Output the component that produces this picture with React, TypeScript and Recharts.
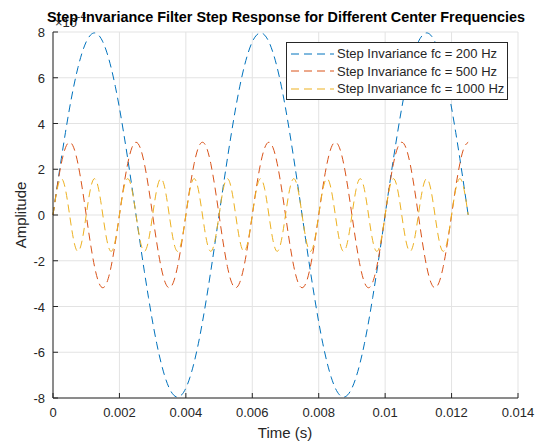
import React from 'react';
import { LineChart, Line, XAxis, YAxis, CartesianGrid } from 'recharts';

// time samples in milliseconds
const TIME_MS = [
  0, 0.125, 0.25, 0.375, 0.5, 0.625, 0.75, 0.875,
  1, 1.125, 1.25, 1.375, 1.5, 1.625, 1.75, 1.875,
  2, 2.125, 2.25, 2.375, 2.5, 2.625, 2.75, 2.875,
  3, 3.125, 3.25, 3.375, 3.5, 3.625, 3.75, 3.875,
  4, 4.125, 4.25, 4.375, 4.5, 4.625, 4.75, 4.875,
  5, 5.125, 5.25, 5.375, 5.5, 5.625, 5.75, 5.875,
  6, 6.125, 6.25, 6.375, 6.5, 6.625, 6.75, 6.875,
  7, 7.125, 7.25, 7.375, 7.5, 7.625, 7.75, 7.875,
  8, 8.125, 8.25, 8.375, 8.5, 8.625, 8.75, 8.875,
  9, 9.125, 9.25, 9.375, 9.5, 9.625, 9.75, 9.875,
  10, 10.125, 10.25, 10.375, 10.5, 10.625, 10.75, 10.875,
  11, 11.125, 11.25, 11.375, 11.5, 11.625, 11.75, 11.875,
  12, 12.125, 12.25, 12.375, 12.5,
];

// amplitudes in units of 1e-4
const FC200 = [
  0,
  1.25, 2.46, 3.61, 4.68, 5.63, 6.44, 7.09, 7.57, 7.86, 7.96, 7.86, 7.57, 7.09, 6.44, 5.63, 4.68, 3.61, 2.46, 1.25, 0,
  -1.25, -2.46, -3.61, -4.68, -5.63, -6.44, -7.09, -7.57, -7.86, -7.96, -7.86, -7.57, -7.09, -6.44, -5.63, -4.68, -3.61, -2.46, -1.25, 0,
  1.25, 2.46, 3.61, 4.68, 5.63, 6.44, 7.09, 7.57, 7.86, 7.96, 7.86, 7.57, 7.09, 6.44, 5.63, 4.68, 3.61, 2.46, 1.25, 0,
  -1.25, -2.46, -3.61, -4.68, -5.63, -6.44, -7.09, -7.57, -7.86, -7.96, -7.86, -7.57, -7.09, -6.44, -5.63, -4.68, -3.61, -2.46, -1.25, 0,
  1.25, 2.46, 3.61, 4.68, 5.63, 6.44, 7.09, 7.57, 7.86, 7.96, 7.86, 7.57, 7.09, 6.44, 5.63, 4.68, 3.61, 2.46, 1.25, 0,
];

const FC500 = [
  0,
  1.22, 2.25, 2.94, 3.18, 2.94, 2.25, 1.22, 0,
  -1.22, -2.25, -2.94, -3.18, -2.94, -2.25, -1.22, 0,
  1.22, 2.25, 2.94, 3.18, 2.94, 2.25, 1.22, 0,
  -1.22, -2.25, -2.94, -3.18, -2.94, -2.25, -1.22, 0,
  1.22, 2.25, 2.94, 3.18, 2.94, 2.25, 1.22, 0,
  -1.22, -2.25, -2.94, -3.18, -2.94, -2.25, -1.22, 0,
  1.22, 2.25, 2.94, 3.18, 2.94, 2.25, 1.22, 0,
  -1.22, -2.25, -2.94, -3.18, -2.94, -2.25, -1.22, 0,
  1.22, 2.25, 2.94, 3.18, 2.94, 2.25, 1.22, 0,
  -1.22, -2.25, -2.94, -3.18, -2.94, -2.25, -1.22, 0,
  1.22, 2.25, 2.94, 3.18, 2.94, 2.25, 1.22, 0,
  -1.22, -2.25, -2.94, -3.18, -2.94, -2.25, -1.22, 0,
  1.22, 2.25, 2.94, 3.18,
];

const FC1000 = [
  0,
  1.12, 1.59, 1.12, 0, -1.12, -1.59, -1.12, 0,
  1.12, 1.59, 1.12, 0, -1.12, -1.59, -1.12, 0,
  1.12, 1.59, 1.12, 0, -1.12, -1.59, -1.12, 0,
  1.12, 1.59, 1.12, 0, -1.12, -1.59, -1.12, 0,
  1.12, 1.59, 1.12, 0, -1.12, -1.59, -1.12, 0,
  1.12, 1.59, 1.12, 0, -1.12, -1.59, -1.12, 0,
  1.12, 1.59, 1.12, 0, -1.12, -1.59, -1.12, 0,
  1.12, 1.59, 1.12, 0, -1.12, -1.59, -1.12, 0,
  1.12, 1.59, 1.12, 0, -1.12, -1.59, -1.12, 0,
  1.12, 1.59, 1.12, 0, -1.12, -1.59, -1.12, 0,
  1.12, 1.59, 1.12, 0, -1.12, -1.59, -1.12, 0,
  1.12, 1.59, 1.12, 0, -1.12, -1.59, -1.12, 0,
  1.12, 1.59, 1.12, 0,
];

const SERIES_KEYS = ['fc200', 'fc500', 'fc1000'];
const SERIES_NAMES = ['Step Invariance fc = 200 Hz', 'Step Invariance fc = 500 Hz', 'Step Invariance fc = 1000 Hz'];
const COLORS = ['#0072BD', '#D95319', '#EDB120'];

const X_TICKS = [0, 0.002, 0.004, 0.006, 0.008, 0.01, 0.012, 0.014];
const Y_TICKS = [-8, -6, -4, -2, 0, 2, 4, 6, 8];

const FONT = '"Liberation Sans", Arial, Helvetica, sans-serif';
const AXIS_COLOR = '#262626';
const DASH = '8 5';

const data = TIME_MS.map((ms, i) => ({
  t: ms / 1000,
  fc200: FC200[i],
  fc500: FC500[i],
  fc1000: FC1000[i],
}));

const XTick = ({ x, y, payload }: any) => (
  <g>
    <line x1={x} y1={y} x2={x} y2={y - 5} stroke={AXIS_COLOR} />
    <text x={x} y={y + 19} textAnchor="middle" fontSize={13} fill={AXIS_COLOR} fontFamily={FONT}>
      {payload.value}
    </text>
  </g>
);

const YTick = ({ x, y, payload }: any) => (
  <g>
    <line x1={x} y1={y} x2={x + 5} y2={y} stroke={AXIS_COLOR} />
    <text x={x - 8} y={y + 5} textAnchor="end" fontSize={13} fill={AXIS_COLOR} fontFamily={FONT}>
      {payload.value}
    </text>
  </g>
);

export default function App() {
  return (
    <div style={{ position: 'absolute', left: 0, top: 0, width: 557, height: 445, background: '#fff', fontFamily: FONT }}>
      <LineChart width={557} height={445} data={data} margin={{ top: 32, right: 39, bottom: 0, left: 0 }}>
        <CartesianGrid stroke="#e3e3e3" />
        <XAxis
          dataKey="t"
          type="number"
          domain={[0, 0.014]}
          ticks={X_TICKS}
          height={47}
          tickSize={0}
          tickMargin={0}
          tickLine={false}
          axisLine={{ stroke: AXIS_COLOR }}
          tick={<XTick />}
          interval={0}
        />
        <YAxis
          type="number"
          domain={[-8, 8]}
          ticks={Y_TICKS}
          width={53}
          tickSize={0}
          tickMargin={0}
          tickLine={false}
          axisLine={{ stroke: AXIS_COLOR }}
          tick={<YTick />}
          interval={0}
        />
        {SERIES_KEYS.map((k, i) => (
          <Line
            key={k}
            dataKey={k}
            name={SERIES_NAMES[i]}
            type="natural"
            stroke={COLORS[i]}
            strokeWidth={1}
            strokeDasharray={DASH}
            dot={false}
            isAnimationActive={false}
          />
        ))}
      </LineChart>

      {/* text overlay: exponent, title, axis labels */}
      <svg width={557} height={445} style={{ position: 'absolute', left: 0, top: 0, pointerEvents: 'none' }}>
        <text x={55} y={27} fontSize={13} fill={AXIS_COLOR} fontFamily={FONT}>
          ×10
          <tspan dy={-7} fontSize={10}>-4</tspan>
        </text>
        <text x={286} y={22} textAnchor="middle" fontSize={14.4} fontWeight="bold" fill="#000" fontFamily={FONT}>
          Step Invariance Filter Step Response for Different Center Frequencies
        </text>
        <text x={285} y={438} textAnchor="middle" fontSize={15} fill={AXIS_COLOR} fontFamily={FONT}>
          Time (s)
        </text>
        <text x={26} y={215} textAnchor="middle" fontSize={15} fill={AXIS_COLOR} fontFamily={FONT} transform="rotate(-90 26 215)">
          Amplitude
        </text>
      </svg>

      {/* legend */}
      <div
        style={{
          position: 'absolute',
          left: 286,
          top: 42,
          width: 220,
          height: 54,
          background: '#fff',
          border: `1px solid ${AXIS_COLOR}`,
          boxSizing: 'content-box',
          paddingTop: 2,
        }}
      >
        {SERIES_NAMES.map((name, i) => (
          <div key={name} style={{ display: 'flex', alignItems: 'center', height: 17.5, fontSize: 13, color: AXIS_COLOR, whiteSpace: 'nowrap' }}>
            <svg width={50} height={10} style={{ flexShrink: 0 }}>
              <line x1={4} y1={5} x2={47} y2={5} stroke={COLORS[i]} strokeWidth={1} strokeDasharray={DASH} />
            </svg>
            <span>{name}</span>
          </div>
        ))}
      </div>
    </div>
  );
}
